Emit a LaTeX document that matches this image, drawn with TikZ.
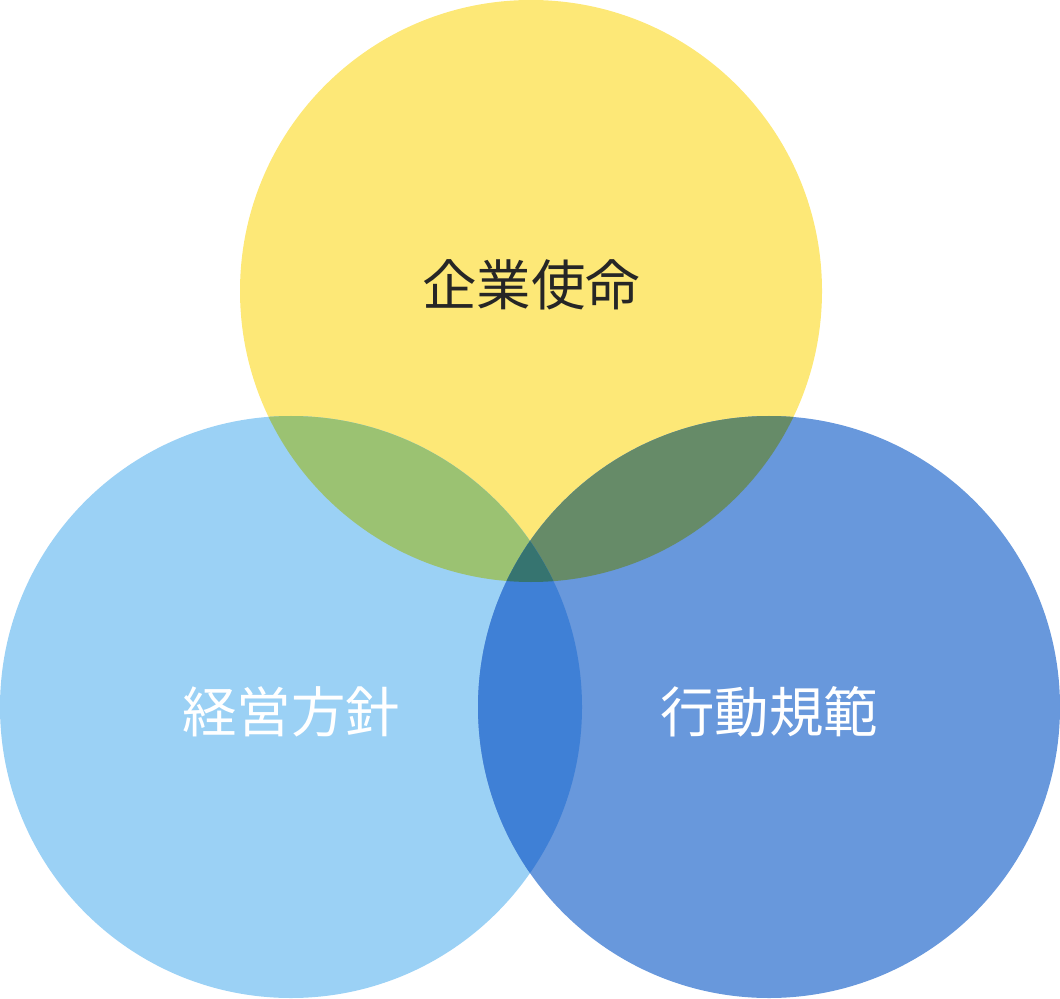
\documentclass[tikz,border=0pt]{standalone}
\usepackage{fontspec}
\newfontfamily\cjk{Noto Sans CJK JP}
\definecolor{mission}{HTML}{FDE877}
\definecolor{policy}{HTML}{9BD1F5}
\definecolor{conduct}{HTML}{6898DC}
\definecolor{mixMP}{HTML}{9BC272}
\definecolor{mixMC}{HTML}{668B68}
\definecolor{mixPC}{HTML}{3F80D6}
\definecolor{mixAll}{HTML}{367470}
\begin{document}
\begin{tikzpicture}[x=0.02cm,y=-0.02cm,
  label/.style={font=\cjk\fontsize{31}{36}\selectfont}]
\useasboundingbox (0,0) rectangle (1060,999);
\def\rad{291}
\coordinate (M) at (531,291);
\coordinate (P) at (291,707);
\coordinate (C) at (769,707);
\fill[mission] (M) circle (\rad);
\fill[policy] (P) circle (\rad);
\fill[conduct] (C) circle (\rad);
\begin{scope}
  \clip (M) circle (\rad);
  \fill[mixMP] (P) circle (\rad);
  \fill[mixMC] (C) circle (\rad);
\end{scope}
\begin{scope}
  \clip (P) circle (\rad);
  \fill[mixPC] (C) circle (\rad);
  \clip (C) circle (\rad);
  \fill[mixAll] (M) circle (\rad);
\end{scope}
\node[label, text=black!85] (mission) at (531,285) {企業使命};
\node[label, text=white] (policy) at (291,712) {経営方針};
\node[label, text=white] (conduct) at (769,712) {行動規範};
\end{tikzpicture}
\end{document}
